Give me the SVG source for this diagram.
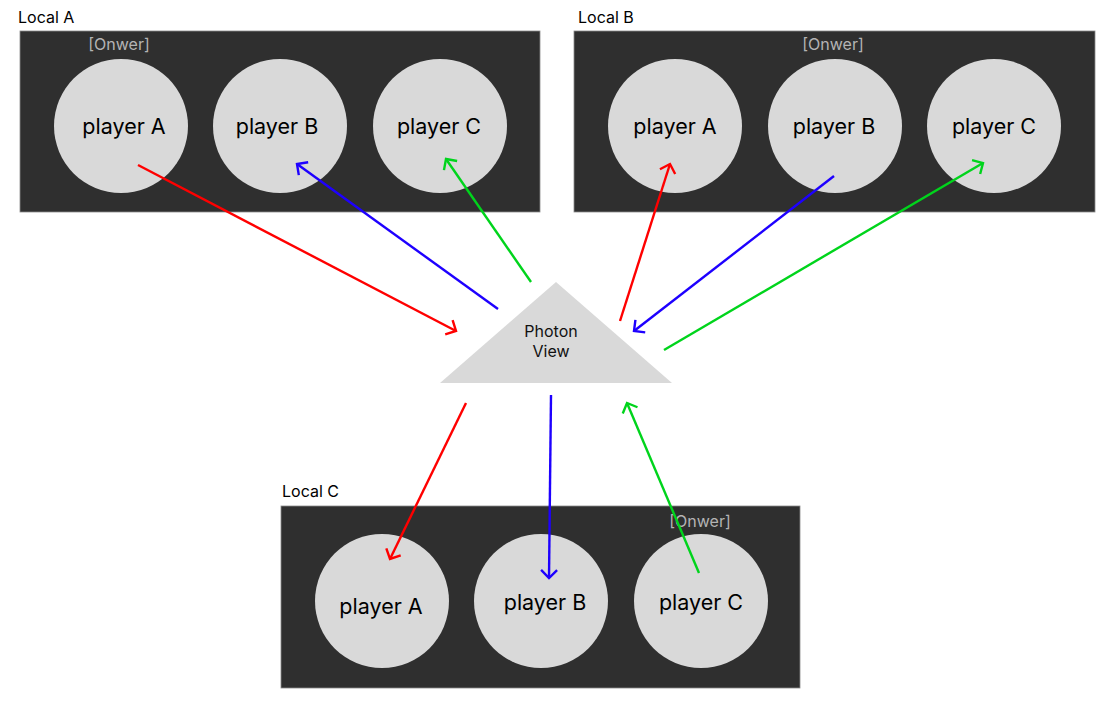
<svg xmlns="http://www.w3.org/2000/svg" width="1106" height="716" viewBox="0 0 1106 716">
<style>
.frame{fill:#2f2f2f;stroke:#8a8a8a;stroke-width:0.8}
.p{fill:#d9d9d9}
.pt{font-family:Inter,"Noto Sans","Liberation Sans",sans-serif;font-size:21.5px;fill:#000;text-anchor:middle;dominant-baseline:central}
.lbl{font-family:Inter,"Noto Sans","Liberation Sans",sans-serif;font-size:16px;fill:#000}
.own{font-family:Inter,"Noto Sans","Liberation Sans",sans-serif;font-size:16px;fill:#b4b4b4;text-anchor:middle;dominant-baseline:central}
.tt{font-family:Inter,"Noto Sans","Liberation Sans",sans-serif;font-size:16px;fill:#111;text-anchor:middle;dominant-baseline:central}
.c{fill:none;stroke-width:2.4}
.r{stroke:#ff0000}
.b{stroke:#1e00ff}
.g{stroke:#00d41c}
</style>
<defs>
<marker id="mr" viewBox="0 0 20 20" refX="10" refY="10" markerWidth="20" markerHeight="20" markerUnits="userSpaceOnUse" orient="auto"><path d="M2,2 L10,10 L2,18" fill="none" stroke="#ff0000" stroke-width="2.4"/></marker>
<marker id="mb" viewBox="0 0 20 20" refX="10" refY="10" markerWidth="20" markerHeight="20" markerUnits="userSpaceOnUse" orient="auto"><path d="M2,2 L10,10 L2,18" fill="none" stroke="#1e00ff" stroke-width="2.4"/></marker>
<marker id="mg" viewBox="0 0 20 20" refX="10" refY="10" markerWidth="20" markerHeight="20" markerUnits="userSpaceOnUse" orient="auto"><path d="M2,2 L10,10 L2,18" fill="none" stroke="#00d41c" stroke-width="2.4"/></marker>
</defs>
<rect width="1106" height="716" fill="#fff"/>
<g id="localA">
<text class="lbl" x="18" y="23">Local A</text>
<rect class="frame" x="20" y="31" width="520" height="181"/>
<text class="own" x="119" y="44">[Onwer]</text>
<g id="localA-playerA"><circle class="p" cx="121" cy="126" r="67"/><text class="pt" x="124" y="126">player A</text></g>
<g id="localA-playerB"><circle class="p" cx="280" cy="126" r="67"/><text class="pt" x="277" y="126">player B</text></g>
<g id="localA-playerC"><circle class="p" cx="440" cy="126" r="67"/><text class="pt" x="439" y="126">player C</text></g>
</g>
<g id="localB">
<text class="lbl" x="578" y="23">Local B</text>
<rect class="frame" x="574" y="31" width="521" height="181"/>
<text class="own" x="833" y="44">[Onwer]</text>
<g id="localB-playerA"><circle class="p" cx="675" cy="126" r="67"/><text class="pt" x="675" y="126">player A</text></g>
<g id="localB-playerB"><circle class="p" cx="835" cy="126" r="67"/><text class="pt" x="834" y="126">player B</text></g>
<g id="localB-playerC"><circle class="p" cx="994" cy="126" r="67"/><text class="pt" x="994" y="126">player C</text></g>
</g>
<g id="photonView">
<polygon class="p" points="556,282 440,383 672,383"/>
<text class="tt" x="551" y="331">Photon</text>
<text class="tt" x="551" y="351">View</text>
</g>
<g id="localC">
<text class="lbl" x="282" y="497">Local C</text>
<rect class="frame" x="281" y="506" width="519" height="182"/>
<text class="own" x="700" y="521">[Onwer]</text>
<g id="localC-playerA"><circle class="p" cx="382" cy="601" r="67"/><text class="pt" x="381" y="606">player A</text></g>
<g id="localC-playerB"><circle class="p" cx="541" cy="601" r="67"/><text class="pt" x="545" y="602">player B</text></g>
<g id="localC-playerC"><circle class="p" cx="701" cy="601" r="67"/><text class="pt" x="701" y="602">player C</text></g>
</g>
<g id="connectors">
<line class="c r" x1="138" y1="165" x2="456" y2="331" marker-end="url(#mr)"/>
<line class="c b" x1="498" y1="309" x2="297" y2="164" marker-end="url(#mb)"/>
<line class="c g" x1="531" y1="282" x2="446" y2="159" marker-end="url(#mg)"/>
<line class="c r" x1="620" y1="321" x2="670" y2="164" marker-end="url(#mr)"/>
<line class="c b" x1="834" y1="176" x2="634" y2="331" marker-end="url(#mb)"/>
<line class="c g" x1="664" y1="350" x2="983" y2="163" marker-end="url(#mg)"/>
<line class="c r" x1="466" y1="403" x2="390" y2="559" marker-end="url(#mr)"/>
<line class="c b" x1="551" y1="395" x2="549" y2="578" marker-end="url(#mb)"/>
<line class="c g" x1="699" y1="573" x2="627" y2="403" marker-end="url(#mg)"/>
</g>
</svg>
